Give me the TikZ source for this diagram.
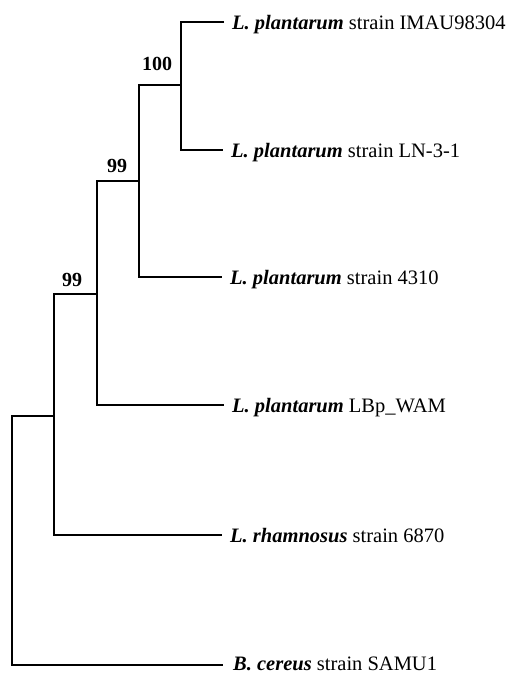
\documentclass[tikz,border=0pt]{standalone}
\usepackage{fontspec}
\setmainfont{Liberation Serif}
\begin{document}
\begin{tikzpicture}[x=1pt,y=-1pt,
  branch/.style={line width=2.4pt,line join=miter,black},
  leaf/.style={anchor=base west,inner sep=0pt,font=\fontsize{20.5}{23}\selectfont},
  boot/.style={anchor=base,inner sep=0pt,font=\fontsize{20}{23}\selectfont\bfseries}]
\useasboundingbox (0,0) rectangle (512,673);
% tips
\coordinate (t1) at (224,22);
\coordinate (t2) at (223,150);
\coordinate (t3) at (222,277);
\coordinate (t4) at (224,405);
\coordinate (t5) at (222,535);
\coordinate (t6) at (223,665);
% internal nodes
\coordinate (nA) at (181,85);
\coordinate (nB) at (139,181);
\coordinate (nC) at (97,294);
\coordinate (nD) at (54,416);
\coordinate (nR) at (12,540);
% branches
\draw[branch] (t1) -| (nA) |- (t2);
\draw[branch] (nA) -| (nB) |- (t3);
\draw[branch] (nB) -| (nC) |- (t4);
\draw[branch] (nC) -| (nD) |- (t5);
\draw[branch] (nD) -| (nR) |- (t6);
% leaf labels
\node[leaf] (L1) at (232,29) {\textbf{\textit{L. plantarum}} strain IMAU98304};
\node[leaf] (L2) at (231,157) {\textbf{\textit{L. plantarum}} strain LN-3-1};
\node[leaf] (L3) at (230,284) {\textbf{\textit{L. plantarum}} strain 4310};
\node[leaf] (L4) at (232,412) {\textbf{\textit{L. plantarum}} LBp\_WAM};
\node[leaf] (L5) at (230,542) {\textbf{\textit{L. rhamnosus}} strain 6870};
\node[leaf] (L6) at (233,670) {\textbf{\textit{B. cereus}} strain SAMU1};
% bootstrap values
\node[boot] (b1) at (157,70) {100};
\node[boot] (b2) at (117,172) {99};
\node[boot] (b3) at (72,286) {99};
\end{tikzpicture}
\end{document}
